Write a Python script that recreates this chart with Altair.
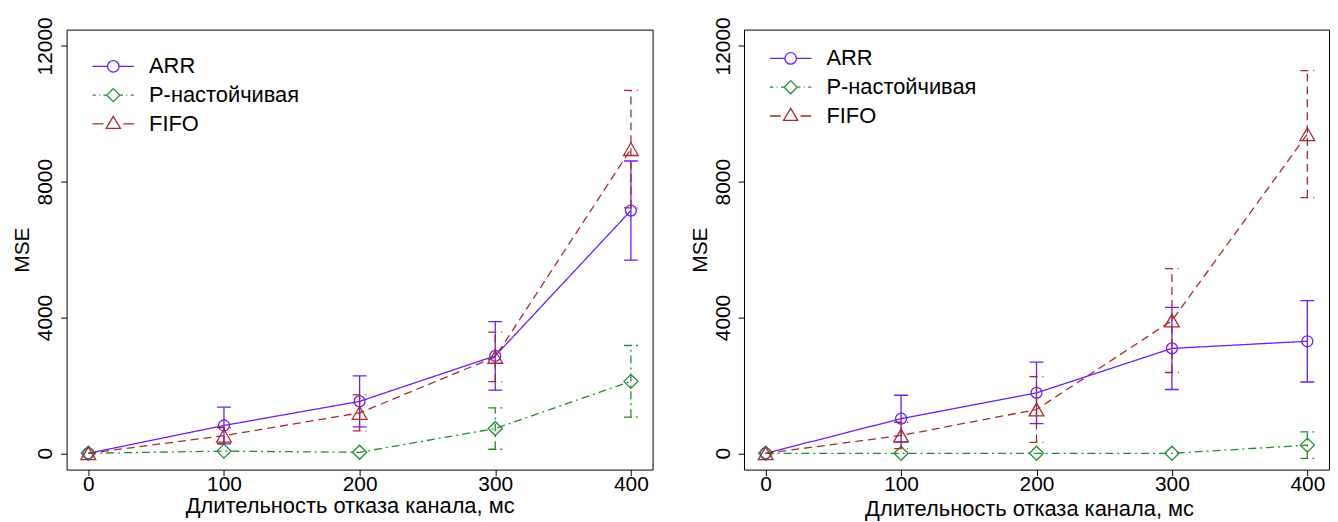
import altair as alt
import pandas as pd

FONT = "Liberation Sans"

x_values = [0, 100, 200, 300, 400]
y_ticks = [0, 4000, 8000, 12000]
series_names = ["ARR", "Р-настойчивая", "FIFO"]
series_colors = ["#6a1cff", "#1f8f2a", "#a52a2a"]
series_dashes = [[1, 0], [8, 4, 2, 4], [8, 5]]
series_shapes = ["circle", "diamond", "triangle-up"]
series_sizes = [121, 200, 220]
x_title = "Длительность отказа канала, мс"
y_title = "MSE"

# left panel
left_arr = [0, 820, 1530, 2870, 7150]
left_arr_err = [0, 540, 750, 1010, 1460]
left_pn = [0, 65, 30, 730, 2120]
left_pn_err = [0, 0, 0, 610, 1056]
left_fifo = [0, 520, 1190, 2840, 8960]
left_fifo_err = [0, 240, 530, 730, 1730]

# right panel
right_arr = [0, 1020, 1780, 3090, 3300]
right_arr_err = [0, 690, 905, 1210, 1200]
right_pn = [0, 0, 0, 0, 240]
right_pn_err = [0, 0, 0, 0, 390]
right_fifo = [0, 525, 1290, 3910, 9400]
right_fifo_err = [0, 390, 970, 1530, 1870]

# legend symbols: line segment + marker, in symbol units
path_arr = "M-3.8,0H-1.05M1.05,0H3.8M1.05,0A1.05,1.05,0,1,1,-1.05,0A1.05,1.05,0,1,1,1.05,0"
path_pn = ("M-3.8,0H-3.2M-2.55,0H-2.35M-1.8,0H-1.25M1.25,0H1.8M2.35,0H2.55M3.2,0H3.8"
           "M0,-1.2L1.2,0L0,1.2L-1.2,0Z")
path_fifo = "M-3.8,0H-1.8M1.8,0H3.8M0,-1.4L1.3,0.8L-1.3,0.8Z"
legend_paths = [path_arr, path_pn, path_fifo]

color_scale = alt.Scale(domain=series_names, range=series_colors)
legend_shape_scale = alt.Scale(domain=series_names, range=legend_paths)


def make_df(arr, arr_err, pn, pn_err, fifo, fifo_err):
    rows = []
    for name, vals, errs in zip(series_names, [arr, pn, fifo], [arr_err, pn_err, fifo_err]):
        for xv, v, e in zip(x_values, vals, errs):
            rows.append({"x": xv, "series": name, "mse": v, "err": e,
                         "lo": v - e, "hi": v + e})
    return pd.DataFrame(rows)


def panel(df, width, legend_y, title_pad, title_x):
    xs = alt.Scale(domain=[-16, 416], nice=False, zero=False)
    ys = alt.Scale(domain=[-480, 12480], nice=False, zero=False)
    x_axis = alt.Axis(values=x_values, title=x_title, titlePadding=title_pad,
                      titleX=title_x, labelOverlap=False)
    y_axis = alt.Axis(values=y_ticks, title=y_title, format="d", labelOverlap=False)

    def X(f="x:Q"):
        return alt.X(f, scale=xs, axis=x_axis)

    def Y(f):
        return alt.Y(f, scale=ys, axis=y_axis)

    base = alt.Chart(df)
    layers = []
    for name, colr, dsh, shp, sz in zip(series_names, series_colors, series_dashes,
                                        series_shapes, series_sizes):
        s = base.transform_filter(alt.datum.series == name)
        se = s.transform_filter("datum.err > 0")
        layers.append(s.mark_line(strokeWidth=1.3, color=colr, strokeDash=dsh).encode(
            x=X(), y=Y("mse:Q"), order="x:Q"))
        layers.append(se.mark_rule(strokeWidth=1.3, color=colr, strokeDash=dsh).encode(
            x=X(), y=Y("lo:Q"), y2="hi:Q"))
        for fld in ["lo:Q", "hi:Q"]:
            layers.append(se.mark_rule(strokeWidth=1.3, color=colr, strokeDash=dsh,
                                       xOffset=-7, x2Offset=7).encode(
                x=X(), x2="x:Q", y=Y(fld)))
        layers.append(s.mark_point(filled=False, strokeWidth=1.3, opacity=1, shape=shp,
                                   size=sz, color=colr).encode(x=X(), y=Y("mse:Q")))

    legend = alt.Legend(
        title=None, orient="none", legendX=36, legendY=legend_y,
        labelFont=FONT, labelFontSize=22, labelColor="black", labelOffset=25,
        symbolSize=121, symbolStrokeWidth=1.3, rowPadding=7, padding=0,
    )
    layers.append(base.transform_filter("false").mark_point(
        filled=False, strokeWidth=1.3, opacity=1).encode(
        x=X(), y=Y("mse:Q"),
        color=alt.Color("series:N", scale=color_scale, legend=legend),
        shape=alt.Shape("series:N", scale=legend_shape_scale, legend=legend)))

    return alt.layer(*layers).properties(width=width, height=443)


left = panel(make_df(left_arr, left_arr_err, left_pn, left_pn_err, left_fifo, left_fifo_err),
             590, 26, 1, 285)
right = panel(make_df(right_arr, right_arr_err, right_pn, right_pn_err, right_fifo, right_fifo_err),
              589, 18, 4, 287)

chart = alt.hconcat(left, right, spacing=35).resolve_scale(
    color="independent", shape="independent"
).resolve_legend(
    color="independent", shape="independent"
).properties(
    padding={"top": 6, "left": 3, "right": 0, "bottom": 0},
    background="white",
).configure_view(
    stroke="black", strokeWidth=1
).configure_axis(
    grid=False, domain=False, tickColor="black", tickWidth=1, tickSize=6,
    labelFont=FONT, labelFontSize=21, labelColor="black",
    titleFont=FONT, titleFontSize=21, titleFontWeight="normal", titleColor="black",
).configure_axisY(
    labelAngle=270, labelAlign="center", labelBaseline="bottom", labelPadding=5, titlePadding=2,
).configure_axisX(
    labelPadding=-2, titleFontSize=22,
)

chart.save("out.html", embed_options={"renderer": "svg", "actions": False})
